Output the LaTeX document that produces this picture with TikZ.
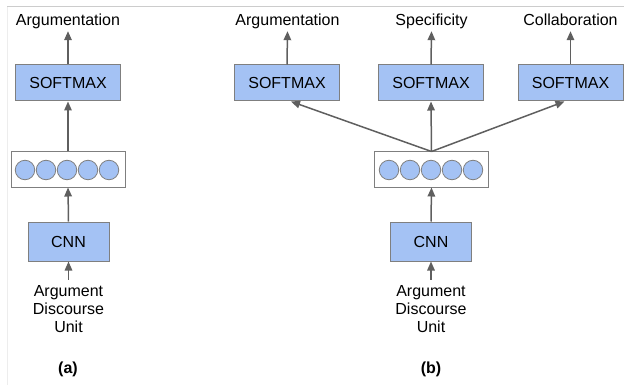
\documentclass[tikz,border=0pt]{standalone}
\usepackage{fontspec}
\setmainfont{Liberation Sans}
\usetikzlibrary{arrows.meta}
\definecolor{boxblue}{HTML}{A4C2F4}
\definecolor{edgegray}{HTML}{7F7F7F}
\definecolor{arrgray}{HTML}{5F5F5F}
\tikzset{
  smbox/.style={draw=edgegray, line width=1pt, fill=boxblue, minimum width=105pt, minimum height=36pt, inner sep=0pt, font=\fontsize{16}{18}\selectfont},
  cnnbox/.style={draw=edgegray, line width=1pt, fill=boxblue, minimum width=81pt, minimum height=39pt, inner sep=0pt, font=\fontsize{16}{18}\selectfont},
  vecbox/.style={draw=edgegray, line width=1pt, fill=white, minimum width=114pt, minimum height=35pt, inner sep=0pt},
  unit/.style={circle, draw=edgegray, line width=0.8pt, fill=boxblue, minimum size=19.5pt, inner sep=0pt},
  toplabel/.style={anchor=base, inner sep=1pt, text depth=4pt, font=\fontsize{16}{18}\selectfont},
  inlabel/.style={anchor=north, inner sep=0pt, align=center, font=\fontsize{16}{18}\selectfont},
  sublabel/.style={font=\fontsize{16}{18}\selectfont\bfseries},
  arr/.style={draw=arrgray, line width=1.5pt, -{Triangle[length=9pt,width=7.5pt]}},
}
\begin{document}
\begin{tikzpicture}[x=1pt,y=-1pt]
\useasboundingbox (0,0) rectangle (624,385);
\draw[color=black!20, line width=1pt] (7,7) -- (624,7);
\draw[color=black!7, line width=1pt] (7,7) -- (7,385);

% ---------- (a) ----------
\node[toplabel] (la) at (68,26) {Argumentation};
\node[smbox] (sa) at (68,83) {SOFTMAX};
\node[vecbox] (va) at (68,169.5) {};
\foreach \i/\x in {1/25,2/46,3/67,4/88,5/109}{
  \node[unit] (ua\i) at (\x,170) {};
}
\node[cnnbox] (ca) at (68.5,241.5) {CNN};
\node[inlabel] (ta) at (68.5,285.5) {Argument\\Discourse\\Unit};
\node[sublabel] (pa) at (68,369) {(a)};

\draw[arr] (sa.north) -- (la.south);
\draw[arr] (va.north) -- (sa.south);
\draw[arr] (ca.north) -- (va.south);
\draw[arr, shorten <=6pt] (ta.north) -- (ca.south);

% ---------- (b) ----------
\node[toplabel] (lb1) at (287.5,26) {Argumentation};
\node[toplabel] (lb2) at (431.5,26) {Specificity};
\node[toplabel] (lb3) at (570.5,26) {Collaboration};
\node[smbox] (sb1) at (287,83) {SOFTMAX};
\node[smbox] (sb2) at (431,83) {SOFTMAX};
\node[smbox] (sb3) at (570.5,83) {SOFTMAX};
\node[vecbox] (vb) at (431.5,169.5) {};
\foreach \i/\x in {1/389,2/410,3/431,4/452,5/473}{
  \node[unit] (ub\i) at (\x,170) {};
}
\node[cnnbox] (cb) at (431,241.5) {CNN};
\node[inlabel] (tb) at (431,285.5) {Argument\\Discourse\\Unit};
\node[sublabel] (pb) at (431,369) {(b)};

\draw[arr] (sb1.north) -- (lb1.south);
\draw[arr] (sb2.north) -- (lb2.south);
\draw[arr] (sb3.north) -- (lb3.south);
\draw[arr] (vb.north) -- ([xshift=4pt]sb1.south);
\draw[arr] (vb.north) -- (sb2.south);
\draw[arr] (vb.north) -- ([xshift=-6pt]sb3.south);
\draw[arr] (cb.north) -- (vb.south);
\draw[arr, shorten <=6pt] (tb.north) -- (cb.south);
\end{tikzpicture}
\end{document}
